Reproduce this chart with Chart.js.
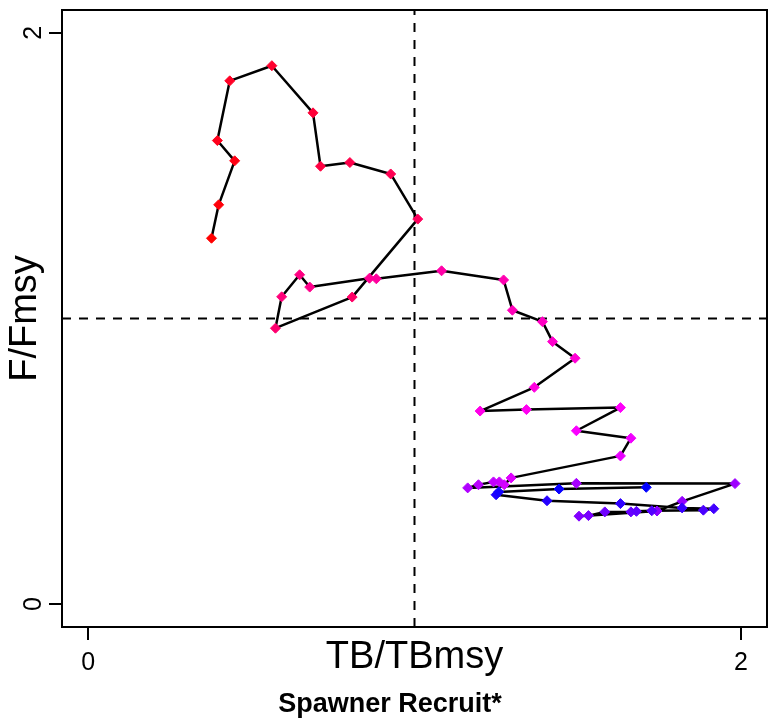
<!DOCTYPE html>
<html>
<head>
<meta charset="utf-8">
<title>Kobe plot - Spawner Recruit*</title>
<script src="https://cdn.jsdelivr.net/npm/chart.js@4.4.0/dist/chart.umd.min.js"></script>
<style>
    html, body { margin: 0; padding: 0; background: #fff; }
    #wrap { width: 773px; height: 721px; }
</style>
</head>
<body>
<div id="wrap"><canvas id="kobeChart" width="773" height="721"></canvas></div>
<script>
// Stock trajectory, first year to last year
const tbRatio = [
    0.378, 0.400, 0.449, 0.396, 0.434, 0.563, 0.689, 0.712, 0.802, 0.927,
    1.010, 0.809, 0.574, 0.593, 0.648, 0.679, 0.862, 0.883, 1.083, 1.273,
    1.300, 1.392, 1.423, 1.492, 1.367, 1.201, 1.343, 1.631, 1.496, 1.663,
    1.631, 1.296, 1.275, 1.260, 1.242, 1.196, 1.163, 1.496, 1.982, 1.820,
    1.743, 1.504, 1.533, 1.583, 1.663, 1.680, 1.727, 1.885, 1.917, 1.820,
    1.631, 1.406, 1.250, 1.258, 1.443, 1.710
];
const fRatio = [
    1.281, 1.398, 1.552, 1.623, 1.832, 1.885, 1.720, 1.533, 1.546, 1.506,
    1.348, 1.075, 0.966, 1.076, 1.153, 1.110, 1.141, 1.139, 1.167, 1.135,
    1.029, 0.989, 0.919, 0.861, 0.759, 0.676, 0.681, 0.688, 0.607, 0.581,
    0.519, 0.442, 0.418, 0.428, 0.428, 0.418, 0.407, 0.423, 0.422, 0.360,
    0.326, 0.308, 0.310, 0.323, 0.323, 0.325, 0.327, 0.329, 0.334, 0.337,
    0.352, 0.362, 0.383, 0.393, 0.403, 0.409
];

// Axis settings
const xTicks = [0, 2];
const yTicks = [0, 2];
const tbmsyRef = 1;
const fmsyRef = 1;
const axisMin = -0.08;
const axisMax = 2.08;

const xTitle = 'TB/TBmsy';
const yTitle = 'F/Fmsy';
const subTitle = 'Spawner Recruit*';

const FONT = "'Liberation Sans', Arial, Helvetica, sans-serif";

// red -> magenta -> blue over the years
function yearColor(i, n) {
    const t = i / (n - 1);
    if (t <= 0.5) {
        return 'rgb(255,0,' + Math.round(510 * t) + ')';
    }
    return 'rgb(' + Math.round(255 * (2 - 2 * t)) + ',0,255)';
}

const points = tbRatio.map((v, i) => ({ x: v, y: fRatio[i] }));
const pointColors = points.map((p, i) => yearColor(i, points.length));

/**
 * Reference lines, frame and all labels (R style)
 */
const framePlugin = {
    id: 'frame',
    beforeDatasetsDraw(chart) {
        const { ctx, chartArea: a, scales: { x, y } } = chart;
        const px = x.getPixelForValue(tbmsyRef);
        const py = y.getPixelForValue(fmsyRef);
        ctx.save();
        ctx.strokeStyle = '#000';
        ctx.lineWidth = 2;
        ctx.setLineDash([9, 8]);
        ctx.beginPath();
        ctx.moveTo(px, a.bottom);
        ctx.lineTo(px, a.top);
        ctx.stroke();
        ctx.beginPath();
        ctx.moveTo(a.left, py);
        ctx.lineTo(a.right, py);
        ctx.stroke();
        ctx.restore();
    },
    afterDraw(chart) {
        const { ctx, chartArea: a, scales: { x, y } } = chart;
        ctx.save();
        // box
        ctx.strokeStyle = '#000';
        ctx.lineWidth = 2;
        ctx.strokeRect(a.left, a.top, a.right - a.left, a.bottom - a.top);

        ctx.fillStyle = '#000';
        ctx.textAlign = 'center';
        ctx.textBaseline = 'alphabetic';

        // x tick labels
        ctx.font = '25px ' + FONT;
        xTicks.forEach(v => ctx.fillText(String(v), x.getPixelForValue(v), 670));

        // y tick labels (rotated like R's las=0)
        yTicks.forEach(v => {
            ctx.save();
            ctx.translate(41, y.getPixelForValue(v));
            ctx.rotate(-Math.PI / 2);
            ctx.fillText(String(v), 0, 0);
            ctx.restore();
        });

        // axis titles
        ctx.font = '38px ' + FONT;
        ctx.fillText(xTitle, (a.left + a.right) / 2, 668);
        ctx.save();
        ctx.translate(36, (a.top + a.bottom) / 2);
        ctx.rotate(-Math.PI / 2);
        ctx.fillText(yTitle, 0, 0);
        ctx.restore();

        // sub title
        ctx.font = 'bold 27px ' + FONT;
        ctx.fillText(subTitle, 390, 712);
        ctx.restore();
    }
};

function initKobeChart() {
    const ctx = document.getElementById('kobeChart');

    new Chart(ctx, {
        type: 'line',
        data: {
            datasets: [{
                label: 'Trajectory',
                data: points,
                borderColor: '#000',
                borderWidth: 2.5,
                borderJoinStyle: 'round',
                tension: 0,
                fill: false,
                pointStyle: 'rectRot',
                pointRadius: 5,
                pointBorderWidth: 1,
                pointBackgroundColor: pointColors,
                pointBorderColor: pointColors
            }]
        },
        options: {
            responsive: false,
            animation: false,
            events: [],
            layout: {
                padding: { left: 0, top: 10, right: 4, bottom: 0 }
            },
            scales: {
                x: {
                    type: 'linear',
                    min: axisMin,
                    max: axisMax,
                    afterBuildTicks: axis => { axis.ticks = xTicks.map(v => ({ value: v })); },
                    afterFit: scale => { scale.height = 94; },
                    ticks: { display: false },
                    border: { display: false },
                    grid: {
                        drawOnChartArea: false,
                        drawTicks: true,
                        tickLength: 13,
                        color: '#000',
                        lineWidth: 2
                    }
                },
                y: {
                    type: 'linear',
                    min: axisMin,
                    max: axisMax,
                    afterBuildTicks: axis => { axis.ticks = yTicks.map(v => ({ value: v })); },
                    afterFit: scale => { scale.width = 62; },
                    ticks: { display: false },
                    border: { display: false },
                    grid: {
                        drawOnChartArea: false,
                        drawTicks: true,
                        tickLength: 13,
                        color: '#000',
                        lineWidth: 2
                    }
                }
            },
            plugins: {
                legend: { display: false },
                tooltip: { enabled: false }
            }
        },
        plugins: [framePlugin]
    });
}

document.addEventListener('DOMContentLoaded', initKobeChart);
</script>
</body>
</html>
